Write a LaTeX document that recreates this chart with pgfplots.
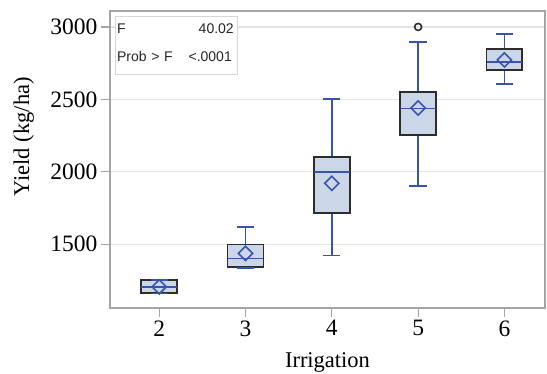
\documentclass[border=0pt]{standalone}
\usepackage{fontspec}
\setmainfont{Liberation Serif}
\newfontfamily\insetfont{Liberation Sans}
\usepackage{pgfplots}
\pgfplotsset{compat=1.18}
\definecolor{sasblue}{RGB}{55,85,175}
\definecolor{boxfill}{RGB}{203,214,232}
\definecolor{boxedge}{RGB}{45,45,45}
\definecolor{axgray}{RGB}{165,165,165}
\definecolor{gridgray}{RGB}{228,228,228}
\definecolor{insetgray}{RGB}{215,215,215}
\pgfplotsset{
  boxst/.style={draw=boxedge, fill=boxfill, line width=1.8pt, mark=none},
  blu/.style={sasblue, line width=1.6pt, mark=none},
}
\begin{document}
\begin{tikzpicture}
\begin{axis}[
  scale only axis, width=435pt, height=297pt,
  xmin=1.43, xmax=6.47, ymin=1059, ymax=3110,
  xtick={2,3,4,5,6}, ytick={1500,2000,2500,3000},
  axis line style={axgray, line width=1.2pt},
  tick style={axgray, line width=1.2pt},
  tick align=outside, major tick length=9pt,
  xtick pos=left, ytick pos=left,
  ymajorgrids, grid style={gridgray, line width=1.2pt},
  tick label style={font=\fontsize{23.5}{26}\selectfont, black},
  /pgf/number format/assume math mode=true,
  /pgf/number format/1000 sep={},
  xlabel={Irrigation},
  ylabel={Yield (kg/ha)},
  label style={font=\fontsize{22.5}{26}\selectfont},
  xlabel style={at={(axis description cs:0.5,0)}, anchor=base, yshift=-60pt},
  ylabel style={at={(axis description cs:-0.198,0.576)}, anchor=center},
]
% group 2: whiskers coincide with quartiles
\addplot[boxst] coordinates {(1.7925,1160) (2.2075,1160) (2.2075,1252) (1.7925,1252)} -- cycle;
\addplot[blu] coordinates {(1.7925,1206) (2.2075,1206)};
\addplot[blu] coordinates {(1.9,1252) (2.1,1252)};
\addplot[blu] coordinates {(1.9,1160) (2.1,1160)};
% group 3
\addplot[blu] coordinates {(3,1498) (3,1619)};
\addplot[blu] coordinates {(2.9,1619) (3.1,1619)};
\addplot[blu] coordinates {(3,1344) (3,1337)};
\addplot[boxst] coordinates {(2.7925,1344) (3.2075,1344) (3.2075,1498) (2.7925,1498)} -- cycle;
\addplot[blu] coordinates {(2.9,1337) (3.1,1337)};
\addplot[blu] coordinates {(2.7925,1401) (3.2075,1401)};
% group 4
\addplot[blu] coordinates {(4,2099) (4,2503)};
\addplot[blu] coordinates {(3.9,2503) (4.1,2503)};
\addplot[blu] coordinates {(4,1713) (4,1422)};
\addplot[blu] coordinates {(3.9,1422) (4.1,1422)};
\addplot[boxst] coordinates {(3.7925,1713) (4.2075,1713) (4.2075,2099) (3.7925,2099)} -- cycle;
\addplot[blu] coordinates {(3.7925,2000) (4.2075,2000)};
% group 5
\addplot[blu] coordinates {(5,2553) (5,2897)};
\addplot[blu] coordinates {(4.9,2897) (5.1,2897)};
\addplot[blu] coordinates {(5,2255) (5,1903)};
\addplot[blu] coordinates {(4.9,1903) (5.1,1903)};
\addplot[boxst] coordinates {(4.7925,2255) (5.2075,2255) (5.2075,2553) (4.7925,2553)} -- cycle;
\addplot[blu] coordinates {(4.7925,2438) (5.2075,2438)};
% group 6
\addplot[blu] coordinates {(6,2846) (6,2950)};
\addplot[blu] coordinates {(5.9,2950) (6.1,2950)};
\addplot[blu] coordinates {(6,2701) (6,2605)};
\addplot[blu] coordinates {(5.9,2605) (6.1,2605)};
\addplot[boxst] coordinates {(5.7925,2701) (6.2075,2701) (6.2075,2846) (5.7925,2846)} -- cycle;
\addplot[blu] coordinates {(5.7925,2757) (6.2075,2757)};
% means
\addplot[only marks, mark=square, mark size=5pt, mark options={rotate=45, draw=sasblue, line width=1.6pt, fill=none}] coordinates {(2,1205) (3,1436) (4,1920) (5,2440) (6,2772)};
% outlier
\addplot[only marks, mark=o, mark size=3.5pt, mark options={draw=boxedge, line width=1.6pt, fill=none}] coordinates {(5,3000)};
\draw[insetgray, fill=white, line width=1pt] (axis description cs:0.0115,0.980) rectangle (axis description cs:0.292,0.7845);
\node[anchor=base west, inner sep=0pt, font=\insetfont\fontsize{14}{16}\selectfont, text=black!85] at (axis description cs:0.016,0.925) {F};
\node[anchor=base east, inner sep=0pt, font=\insetfont\fontsize{14}{16}\selectfont, text=black!85] at (axis description cs:0.285,0.925) {40.02};
\node[anchor=base west, inner sep=0pt, font=\insetfont\fontsize{14}{16}\selectfont, text=black!85] at (axis description cs:0.016,0.829) {Prob\,\,>\,\,F};
\node[anchor=base east, inner sep=0pt, font=\insetfont\fontsize{14}{16}\selectfont, text=black!85] at (axis description cs:0.2805,0.829) {<.0001};
\end{axis}
\pgfresetboundingbox
\path[use as bounding box] (-110pt,-66pt) rectangle (437pt,308pt);
\end{tikzpicture}
\end{document}
